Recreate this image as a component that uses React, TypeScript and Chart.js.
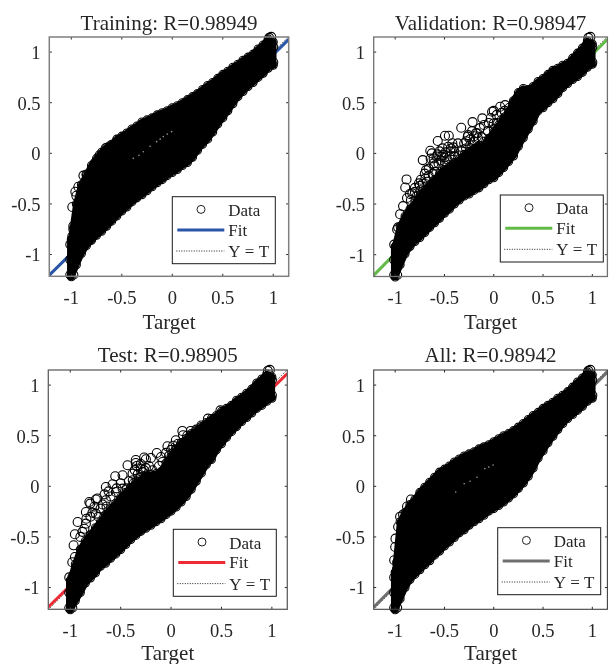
import React, { useEffect, useRef } from "react";
import { Chart, registerables } from "chart.js";

Chart.register(...registerables);

const FONT = "'Liberation Serif', 'Times New Roman', serif";
const INK = "#262626";

const tickValues = [-1, -0.5, 0, 0.5, 1];
const xLimits = [-1.218, 1.153];
const yLimits = [-1.215, 1.149];
const legendLabels = ["Data", "Fit", "Y = T"];

const targetColumns = [
  -1, -0.95, -0.9, -0.85, -0.8, -0.75, -0.7, -0.65, -0.6, -0.55, -0.5, -0.45, -0.4, -0.35, -0.3, -0.25, -0.2, -0.15, -0.1, -0.05, 0,
  0.05, 0.1, 0.15, 0.2, 0.25, 0.3, 0.35, 0.4, 0.45, 0.5, 0.55, 0.6, 0.65, 0.7, 0.75, 0.8, 0.85, 0.9, 0.95, 1,
];

const trainingUpper = [-0.85, -0.5, -0.31, -0.22, -0.12, -0.05, 0.01, 0.06, 0.09, 0.14, 0.17, 0.2, 0.24, 0.27, 0.31, 0.33, 0.35, 0.38, 0.4, 0.42, 0.45, 0.47, 0.5, 0.53, 0.56, 0.59, 0.63, 0.67, 0.7, 0.74, 0.78, 0.81, 0.85, 0.88, 0.92, 0.95, 0.98, 1.03, 1.07, 1.13, 1.1];
const trainingLower = [-1.22, -1.1, -0.99, -0.91, -0.86, -0.81, -0.77, -0.72, -0.67, -0.62, -0.57, -0.53, -0.48, -0.44, -0.41, -0.37, -0.33, -0.29, -0.26, -0.22, -0.19, -0.16, -0.12, -0.09, -0.04, 0.03, 0.09, 0.14, 0.21, 0.29, 0.35, 0.42, 0.49, 0.56, 0.61, 0.66, 0.7, 0.75, 0.79, 0.84, 0.87];
const validationUpper = [-0.92, -0.72, -0.62, -0.55, -0.49, -0.42, -0.36, -0.31, -0.26, -0.2, -0.16, -0.13, -0.09, -0.06, -0.01, 0.02, 0.05, 0.08, 0.07, 0.15, 0.21, 0.28, 0.34, 0.41, 0.52, 0.6, 0.64, 0.63, 0.66, 0.71, 0.74, 0.78, 0.82, 0.84, 0.87, 0.89, 0.94, 0.99, 1.04, 1.11, 1.08];
const validationLower = [-1.22, -1.1, -0.99, -0.92, -0.87, -0.83, -0.78, -0.73, -0.685, -0.64, -0.59, -0.55, -0.5, -0.46, -0.42, -0.4, -0.365, -0.34, -0.3, -0.26, -0.24, -0.19, -0.14, -0.08, -0.025, 0.07, 0.155, 0.24, 0.32, 0.42, 0.45, 0.5, 0.54, 0.59, 0.65, 0.69, 0.73, 0.76, 0.8, 0.85, 0.88];
const testUpper = [-0.93, -0.77, -0.625, -0.54, -0.48, -0.41, -0.35, -0.28, -0.22, -0.17, -0.11, -0.06, -0.01, 0.04, 0.07, 0.11, 0.115, 0.125, 0.145, 0.23, 0.3, 0.36, 0.43, 0.47, 0.52, 0.55, 0.59, 0.63, 0.67, 0.7, 0.74, 0.77, 0.8, 0.85, 0.88, 0.92, 0.96, 1.02, 1.06, 1.11, 1.08];
const testLower = [-1.22, -1.13, -1.05, -0.955, -0.905, -0.855, -0.79, -0.76, -0.71, -0.67, -0.625, -0.575, -0.525, -0.485, -0.445, -0.415, -0.385, -0.35, -0.32, -0.28, -0.245, -0.205, -0.155, -0.1, -0.03, 0.05, 0.13, 0.215, 0.265, 0.36, 0.42, 0.485, 0.54, 0.59, 0.64, 0.68, 0.725, 0.77, 0.8, 0.84, 0.87];
const allUpper = [-0.85, -0.35, -0.26, -0.18, -0.13, -0.06, -0.01, 0.04, 0.09, 0.14, 0.17, 0.2, 0.24, 0.27, 0.3, 0.32, 0.34, 0.37, 0.39, 0.41, 0.44, 0.47, 0.5, 0.52, 0.55, 0.585, 0.62, 0.66, 0.7, 0.73, 0.77, 0.8, 0.83, 0.87, 0.9, 0.935, 0.98, 1.03, 1.07, 1.13, 1.1];
const allLower = [-1.22, -1.11, -1, -0.92, -0.87, -0.825, -0.775, -0.735, -0.68, -0.64, -0.59, -0.55, -0.505, -0.46, -0.43, -0.385, -0.35, -0.32, -0.285, -0.245, -0.22, -0.19, -0.155, -0.115, -0.075, -0.02, 0.033, 0.1, 0.18, 0.28, 0.35, 0.43, 0.495, 0.56, 0.62, 0.67, 0.71, 0.75, 0.79, 0.84, 0.87];

const edgePoints = [
  [-1.01, -1.2], [-1.01, -1.05], [-1.01, -0.9], [-0.98, -1.2], [-0.98, -0.9], [-0.98, -0.75],
  [1, 0.9], [1, 1.05], [0.98, 1.15], [0.96, 1.14],
];

const trainingOutliers = [
  [-0.99, -0.53], [-0.98, -0.72], [-0.99, -0.82], [-0.93, -0.33], [-0.96, -0.38], [-0.95, -0.42], [-0.88, -0.22], [-0.85, -0.21],
  [-0.84, -0.27], [-0.82, -0.2], [-0.77, -0.1], [-0.72, -0.02], [-0.66, 0.05], [-0.62, 0.07],
];
const validationOutliers = [
  [-0.885, -0.257], [-0.898, -0.336], [-0.72, -0.066], [-0.687, -0.165], [-0.644, 0.026], [-0.568, 0.122], [-0.495, 0.174], [-0.456, 0.174],
  [-0.363, 0.099], [-0.33, 0.253], [-0.215, 0.309], [-0.116, 0.346], [-0.017, 0.411], [-0.281, 0.049], [-0.436, 0.049], [-0.512, -0.017],
  [-0.611, -0.099], [-0.759, -0.296], [-0.693, -0.247], [-0.826, -0.395], [-0.743, -0.363], [-0.594, -0.182], [-0.495, -0.083], [-0.396, -0.034],
  [-0.264, 0.164], [-0.165, 0.198], [-0.099, 0.115], [0, 0.296], [0.065, 0.46], [0.115, 0.477], [-0.628, 0], [-0.462, 0.065],
  [-0.727, -0.429], [-0.55, 0.02], [-0.52, 0.05], [-0.58, -0.03], [-0.6, -0.12], [-0.56, -0.1], [-0.5, -0.04], [-0.45, -0.03],
  [-0.42, 0.1], [-0.4, 0.02], [-0.3, 0.1], [-0.26, 0.18], [-0.22, 0.22], [-0.18, 0.2], [-0.14, 0.25], [-0.1, 0.28],
  [-0.06, 0.22], [-0.03, 0.35], [0.03, 0.38], [0.08, 0.4], [0.12, 0.36], [0.16, 0.45], [0.2, 0.5], [0.25, 0.5],
  [-0.66, -0.15], [-0.7, -0.2], [-0.75, -0.32], [-0.8, -0.34], [-0.85, -0.4], [-0.88, -0.44], [-0.92, -0.52], [-0.95, -0.6],
  [-0.97, -0.73], [-0.78, -0.42], [-0.62, -0.2], [-0.64, -0.05], [-0.5, -0.12], [-0.35, -0.02], [-0.33, 0.03], [-0.24, 0.08],
  [-0.2, 0.12], [-0.12, 0.16], [-0.05, 0.3], [0, 0.42], [-0.53, -0.03], [-0.54, -0.07], [-0.57, -0.01], [-0.49, 0.01],
  [-0.47, -0.06], [-0.44, 0.02], [-0.41, 0.06], [-0.74, -0.26], [-0.72, -0.3], [-0.68, -0.28], [-0.8, -0.38], [-0.84, -0.46],
  [-0.66, -0.22], [-0.61, -0.05], [-0.06, 0.12], [0, 0.24], [0.03, 0.3], [0.08, 0.33], [0.11, 0.42], [0.18, 0.42],
  [-0.24, 0.14], [-0.2, 0.17], [-0.16, 0.15], [-0.28, 0.12],
];
const testOutliers = [
  [-0.647, -0.007], [-0.554, 0.099], [-0.811, -0.155], [-0.746, -0.131], [-0.927, -0.353], [-0.845, -0.254], [-0.432, 0.208], [-0.35, 0.23],
  [-0.267, 0.284], [-0.142, 0.329], [-0.052, 0.151], [-0.036, 0.395], [0.047, 0.455], [0.119, 0.504], [-0.333, 0.01], [-0.481, 0.109],
  [-0.085, 0.24], [-0.184, 0.158], [-0.647, -0.138], [-0.746, -0.27], [-0.548, -0.056], [-0.382, 0.125], [-0.3, 0.175], [-0.481, -0.023],
  [-0.845, -0.369], [-0.967, -0.583], [-0.954, -0.474], [-0.954, -0.698], [-0.802, -0.171], [-0.73, -0.12], [-0.25, 0.267], [0.112, 0.547],
  [0.195, 0.547], [0.366, 0.669], [0.49, 0.75], [-0.35, 0.26], [-0.88, -0.45], [-0.9, -0.5], [-0.8, -0.3], [-0.7, -0.22],
  [-0.6, -0.1], [-0.58, 0.02], [-0.42, 0.05], [-0.38, 0.06], [-0.33, 0.12], [-0.28, 0.14], [-0.25, 0.18], [-0.22, 0.2],
  [-0.3, 0.09], [-0.12, 0.2], [-0.1, 0.29], [-0.02, 0.3], [0.05, 0.36], [0.1, 0.42], [-0.2, 0.28], [-0.5, 0.03],
  [-0.36, 0.16], [-0.34, 0.2], [-0.3, 0.22], [-0.27, 0.16], [-0.32, 0.08], [-0.37, 0.03], [-0.44, -0.02], [-0.54, -0.02],
  [-0.62, -0.05], [-0.68, -0.18], [-0.76, -0.2], [-0.84, -0.32], [-0.72, -0.3], [-0.64, -0.2], [0, 0.36], [0.02, 0.4],
  [0.07, 0.42], [0.16, 0.5], [0.25, 0.56], [0.3, 0.6], [-0.05, 0.33], [-0.78, -0.26], [-0.86, -0.42], [-0.66, -0.08],
];
const allOutliers = [
  [-0.997, -0.517], [-1.01, -0.73], [-1, -0.6], [-0.95, -0.3], [-0.97, -0.4], [-0.98, -0.82], [-0.92, -0.28], [-0.88, -0.2], [-0.84, -0.13],
];

const trainingSpecks = [[-0.386, -0.05], [-0.33, -0.02], [-0.287, 0.016], [-0.22, 0.07], [-0.155, 0.115], [-0.12, 0.14], [-0.089, 0.165], [-0.05, 0.19], [-0.007, 0.214]];
const allSpecks = [[-0.386, -0.056], [-0.3, 0.026], [-0.24, 0.05], [-0.17, 0.09], [-0.09, 0.175], [-0.05, 0.19], [-0.007, 0.21]];

const trainingFitY = [-1.203, 1.126];
const validationFitY = [-1.202, 1.126];
const testFitY = [-1.192, 1.113];
const allFitY = [-1.195, 1.13];

const panels = [
  { title: "Training: R=0.98949", color: "#2a55a8", upper: trainingUpper, lower: trainingLower, outliers: trainingOutliers, specks: trainingSpecks, fitY: trainingFitY, box: [0, 0, 306, 335], area: [49.3, 288.7, 37, 276.3], legend: [172.3, 196.7], frame: "#7f7f7f", frameWidth: 1.5, titlePadBottom: -0.2, xTitlePad: 0.8 },
  { title: "Validation: R=0.98947", color: "#62bb46", upper: validationUpper, lower: validationLower, outliers: validationOutliers, specks: [], fitY: validationFitY, box: [306, 0, 307, 335], area: [67.7, 306.7, 37, 276.5], legend: [194.3, 195], frame: "#707070", frameWidth: 1.3, titlePadBottom: -0.2, xTitlePad: 0.8 },
  { title: "Test: R=0.98905", color: "#ee2a35", upper: testUpper, lower: testLower, outliers: testOutliers, specks: [], fitY: testFitY, box: [0, 335, 306, 329], area: [48.3, 287.3, 35, 274.3], legend: [173.3, 194.3], frame: "#606060", frameWidth: 1.3, titlePadBottom: 1, xTitlePad: -0.5 },
  { title: "All: R=0.98942", color: "#6f6f6f", upper: allUpper, lower: allLower, outliers: allOutliers, specks: allSpecks, fitY: allFitY, box: [306, 335, 307, 329], area: [67.7, 306.7, 35, 274.3], legend: [191.7, 192.7], frame: "#404040", frameWidth: 1.1, titlePadBottom: 1, xTitlePad: -0.5 },
];

function Panel({ panel }: { panel: (typeof panels)[number] }) {
  const ref = useRef<HTMLCanvasElement | null>(null);
  useEffect(() => {
    const [, , w, h] = panel.box;
    const [left, right, top, bottom] = panel.area;
    const toPts = (ys: number[]) => ys.map((y, i) => ({ x: targetColumns[i], y }));
    const pairs = (list: number[][]) => list.map(([x, y]) => ({ x, y }));
    const last = targetColumns.length - 1;
    const ringPoints = {
      pointRadius: 4.5,
      pointBackgroundColor: "rgba(0,0,0,0)",
      pointBorderColor: "#000",
      pointBorderWidth: 1.1,
      pointHoverRadius: 4.5,
    };
    const bandEdge = { borderWidth: 6.5, borderColor: "#000", borderJoinStyle: "round", borderCapStyle: "round", clip: false };
    const framePlugin = {
      id: "matlabFrame",
      afterDatasetsDraw(chart: any) {
        const { ctx, chartArea: a, scales } = chart;
        ctx.save();
        ctx.strokeStyle = INK;
        ctx.lineWidth = 1;
        ctx.beginPath();
        tickValues.forEach((v) => {
          const px = scales.x.getPixelForValue(v);
          const py = scales.y.getPixelForValue(v);
          ctx.moveTo(px, a.bottom);
          ctx.lineTo(px, a.bottom - 2.5);
          ctx.moveTo(px, a.top);
          ctx.lineTo(px, a.top + 2.5);
          ctx.moveTo(a.left, py);
          ctx.lineTo(a.left + 2.5, py);
          ctx.moveTo(a.right, py);
          ctx.lineTo(a.right - 2.5, py);
        });
        ctx.stroke();
        ctx.strokeStyle = panel.frame;
        ctx.lineWidth = panel.frameWidth;
        ctx.strokeRect(a.left, a.top, a.right - a.left, a.bottom - a.top);
        ctx.restore();
      },
      afterDraw(chart: any) {
        const { ctx } = chart;
        const [lx, ly] = panel.legend;
        ctx.save();
        ctx.fillStyle = "#fff";
        ctx.strokeStyle = "#1a1a1a";
        ctx.lineWidth = 1;
        ctx.fillRect(lx, ly, 103, 67);
        ctx.strokeRect(lx, ly, 103, 67);
        ctx.strokeStyle = "#222";
        ctx.lineWidth = 1;
        ctx.beginPath();
        ctx.arc(lx + 28.7, ly + 12.7, 4, 0, Math.PI * 2);
        ctx.stroke();
        ctx.strokeStyle = panel.color;
        ctx.lineWidth = 3;
        ctx.beginPath();
        ctx.moveTo(lx + 5, ly + 33.3);
        ctx.lineTo(lx + 52, ly + 33.3);
        ctx.stroke();
        ctx.strokeStyle = "#222";
        ctx.lineWidth = 1;
        ctx.setLineDash([1, 1.5]);
        ctx.beginPath();
        ctx.moveTo(lx + 4, ly + 54.3);
        ctx.lineTo(lx + 52, ly + 54.3);
        ctx.stroke();
        ctx.setLineDash([]);
        ctx.fillStyle = INK;
        ctx.font = `17px ${FONT}`;
        ctx.textBaseline = "middle";
        ctx.textAlign = "left";
        ctx.fillText(legendLabels[0], lx + 56, ly + 15);
        ctx.fillText(legendLabels[1], lx + 56, ly + 34.5);
        ctx.fillText(legendLabels[2], lx + 56, ly + 56);
        ctx.restore();
      },
    };
    const chart = new Chart(ref.current as HTMLCanvasElement, {
      type: "line",
      data: {
        datasets: [
          { label: "Gaps", data: pairs(panel.specks), showLine: false, pointRadius: 0.8, pointBackgroundColor: "#9a9a9a", pointBorderWidth: 0, order: 0 },
          { label: "Data", data: pairs([...panel.outliers, ...edgePoints]), showLine: false, ...ringPoints, clip: false, order: 1 },
          { label: "Upper", data: toPts(panel.upper), ...bandEdge, backgroundColor: "#000", fill: "+1", ...ringPoints, pointRadius: 4, order: 2 },
          { label: "Lower", data: toPts(panel.lower), ...bandEdge, fill: false, ...ringPoints, pointRadius: 4, order: 3 },
          { label: "Left column", data: [{ x: -1.01, y: panel.lower[0] }, { x: -1.01, y: panel.upper[0] }], ...bandEdge, fill: false, pointRadius: 0, order: 4 },
          { label: "Right column", data: [{ x: 1, y: panel.lower[last] }, { x: 1, y: panel.upper[last] }], ...bandEdge, fill: false, pointRadius: 0, order: 5 },
          { label: "Fit", data: [{ x: xLimits[0], y: panel.fitY[0] }, { x: xLimits[1], y: panel.fitY[1] }], borderColor: panel.color, borderWidth: 3, pointRadius: 0, order: 6 },
          { label: "Y = T", data: [{ x: xLimits[0], y: xLimits[0] }, { x: xLimits[1], y: xLimits[1] }], borderColor: "#222", borderWidth: 1, borderDash: [1, 1.5], pointRadius: 0, order: 7 },
        ],
      },
      options: {
        animation: false,
        responsive: false,
        maintainAspectRatio: false,
        layout: { padding: { left: 0, right: w - right, top: 0, bottom: 0 } },
        events: [],
        plugins: {
          legend: { display: false },
          tooltip: { enabled: false },
          title: {
            display: true,
            text: panel.title,
            color: INK,
            fullSize: false,
            font: { family: FONT, size: 21, weight: "normal", lineHeight: 1.2 },
            padding: { top: top - 25.2 - panel.titlePadBottom, bottom: panel.titlePadBottom },
          },
        },
        scales: {
          x: {
            type: "linear",
            min: xLimits[0],
            max: xLimits[1],
            afterBuildTicks(s: any) {
              s.ticks = tickValues.map((value) => ({ value }));
            },
            afterFit(s: any) {
              s.height = h - bottom;
            },
            grid: { display: false, drawTicks: false },
            border: { display: false },
            ticks: { autoSkip: false, maxRotation: 0, minRotation: 0, padding: 12, color: INK, font: { family: FONT, size: 18.5 }, callback: (v: any) => String(v) },
            title: { display: true, text: "Target", color: INK, padding: { top: 0, bottom: panel.xTitlePad }, font: { family: FONT, size: 21, lineHeight: 1 } },
          },
          y: {
            type: "linear",
            min: yLimits[0],
            max: yLimits[1],
            afterBuildTicks(s: any) {
              s.ticks = tickValues.map((value) => ({ value }));
            },
            afterFit(s: any) {
              s.width = left;
            },
            grid: { display: false, drawTicks: false },
            border: { display: false },
            ticks: { autoSkip: false, padding: 8.7, labelOffset: 2, color: INK, font: { family: FONT, size: 18.5 }, callback: (v: any) => String(v) },
          },
        },
      },
      plugins: [framePlugin],
    } as any);
    return () => chart.destroy();
  }, [panel]);
  const [x, y, w, h] = panel.box;
  return <canvas ref={ref} width={w} height={h} style={{ position: "absolute", left: x, top: y, width: w, height: h, display: "block", filter: "blur(0.4px)" }} />;
}

export default function App() {
  return (
    <div style={{ position: "absolute", left: 0, top: 0, width: 613, height: 664, overflow: "hidden", background: "#fff" }}>
      {panels.map((p) => (
        <Panel key={p.title} panel={p} />
      ))}
    </div>
  );
}
